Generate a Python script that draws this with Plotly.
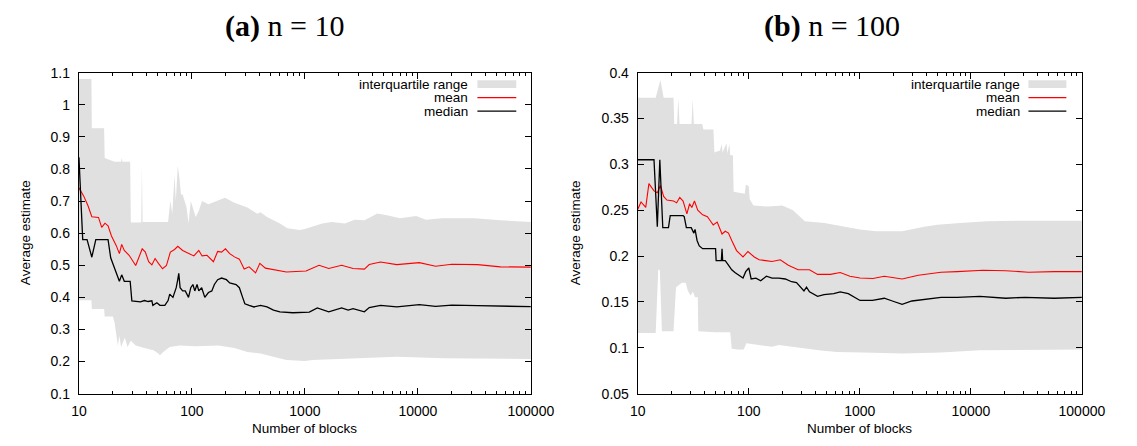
import plotly.graph_objects as go

W, H = 1137, 446

# ---------------- (a) n = 10 ----------------
a_med_x = [10, 10.8, 11.8, 13.0, 14.1, 18.1, 19.1, 21.4, 22.8, 23.9, 25.2, 28.4, 29.4, 35, 38, 41, 44.2,
           45.1, 48.9, 52.1, 57.6, 61.5, 63.6, 67.9, 72.6, 75.0, 76.5, 78.6, 82.8, 87.3, 93.3, 97.7, 102,
           106, 111, 115, 122, 130, 140, 150, 158, 169, 183, 202, 216, 246, 263, 281, 294, 321, 354, 405,
           462, 527, 601, 783, 1094, 1288, 1626, 2115, 2415, 2668, 3360, 3710, 4670, 6500, 10300, 14350,
           20000, 33800, 53800, 100000]
a_med_y = [0.836, 0.58, 0.58, 0.525, 0.58, 0.58, 0.523, 0.48, 0.45, 0.47, 0.45, 0.45, 0.389, 0.386, 0.39,
           0.387, 0.389, 0.375, 0.383, 0.375, 0.375, 0.39, 0.41, 0.40, 0.43, 0.456, 0.475, 0.43, 0.42, 0.42,
           0.40, 0.43, 0.44, 0.42, 0.44, 0.42, 0.43, 0.40, 0.415, 0.42, 0.44, 0.455, 0.46, 0.455, 0.445,
           0.44, 0.43, 0.40, 0.38, 0.375, 0.37, 0.375, 0.37, 0.36, 0.355, 0.352, 0.354, 0.367, 0.355, 0.367,
           0.360, 0.365, 0.355, 0.368, 0.375, 0.370, 0.377, 0.372, 0.376, 0.374, 0.372, 0.371]

a_mean_x = [10, 11.0, 12.0, 13.0, 14.9, 15.9, 17.0, 18.1, 19.4, 21.4, 22.8, 23.9, 25.2, 27.8, 31.8, 34.6,
            36.3, 38.7, 41.4, 44.2, 47.2, 50.5, 55.0, 59.5, 64.4, 70.2, 75.0, 82.8, 91.4, 104, 115, 123,
            136, 155, 169, 183, 198, 216, 238, 263, 290, 321, 366, 399, 447, 527, 686, 1023, 1334, 1626,
            2115, 2668, 3360, 3710, 4670, 6500, 10300, 14350, 20000, 33800, 53800, 100000]
a_mean_y = [0.741, 0.716, 0.686, 0.651, 0.649, 0.618, 0.631, 0.623, 0.591, 0.561, 0.536, 0.565, 0.546,
            0.531, 0.499, 0.531, 0.551, 0.541, 0.511, 0.501, 0.521, 0.506, 0.489, 0.499, 0.541, 0.549,
            0.559, 0.546, 0.539, 0.529, 0.546, 0.529, 0.531, 0.511, 0.543, 0.541, 0.551, 0.536, 0.526,
            0.519, 0.488, 0.495, 0.476, 0.506, 0.491, 0.486, 0.479, 0.482, 0.500, 0.490, 0.500, 0.490,
            0.488, 0.502, 0.510, 0.502, 0.508, 0.497, 0.503, 0.502, 0.495, 0.494]

a_q3_x = [10, 12.9, 13.0, 16.7, 16.9, 20.7, 23.6, 23.9, 24.3, 28.4, 28.8, 35.6, 36.1, 36.6, 61.5, 64.4,
          67, 70.2, 72, 75.0, 77.6, 80, 82.8, 89.7, 93.3, 97.7, 108, 115, 123, 140, 196, 238, 310, 379,
          405, 462, 527, 601, 700, 897, 1000, 1167, 1422, 1733, 2259, 2754, 3360, 3830, 4370, 5330, 6940,
          9660, 11780, 16400, 31700, 53800, 100000]
a_q3_y = [1.08, 1.08, 0.927, 0.927, 0.834, 0.822, 0.822, 0.834, 0.822, 0.822, 0.633, 0.633, 0.81, 0.635,
          0.635, 0.70, 0.66, 0.78, 0.70, 0.81, 0.77, 0.72, 0.72, 0.68, 0.63, 0.70, 0.65, 0.67, 0.70, 0.69,
          0.71, 0.695, 0.68, 0.66, 0.665, 0.65, 0.64, 0.63, 0.615, 0.61, 0.613, 0.62, 0.63, 0.635, 0.63,
          0.642, 0.64, 0.65, 0.661, 0.656, 0.646, 0.653, 0.642, 0.646, 0.646, 0.64, 0.635]

a_q1_x = [10, 12.9, 13.0, 16.7, 16.9, 20.0, 20.7, 22.1, 22.8, 23.6, 25.5, 26.9, 28.8, 31.8, 40.1, 45.7,
          50.5, 52.1, 55.7, 63.6, 77.6, 108, 171, 238, 310, 405, 527, 686, 1000, 1167, 2259, 6500, 17000,
          40000, 100000]
a_q1_y = [0.391, 0.391, 0.364, 0.364, 0.34, 0.34, 0.32, 0.25, 0.28, 0.245, 0.275, 0.245, 0.265, 0.25,
          0.24, 0.235, 0.225, 0.22, 0.23, 0.245, 0.25, 0.248, 0.25, 0.242, 0.23, 0.225, 0.215, 0.205,
          0.202, 0.205, 0.21, 0.215, 0.21, 0.208, 0.208]

# ---------------- (b) n = 100 ----------------
b_med_x = [10, 14.0, 15.0, 15.8, 16.8, 18.9, 19.6, 25.6, 26.2, 27.4, 30.3, 32.0, 32.8, 34.2, 35.8, 38.4,
           50.2, 50.8, 56.6, 57.4, 58.2, 61.3, 65.6, 70.2, 75.0, 88.7, 93.8, 100, 105, 116, 128, 144, 162,
           186, 213, 243, 269, 314, 331, 352, 416, 476, 582, 666, 787, 1004, 1300, 1660, 1962, 2404, 2941,
           3844, 5382, 7530, 12050, 20600, 30800, 56400, 100000]
b_med_y = [0.305, 0.305, 0.232, 0.305, 0.231, 0.231, 0.244, 0.244, 0.243, 0.231, 0.231, 0.225, 0.229,
           0.217, 0.211, 0.208, 0.208, 0.195, 0.195, 0.208, 0.195, 0.195, 0.190, 0.185, 0.182, 0.176,
           0.183, 0.187, 0.175, 0.176, 0.173, 0.178, 0.176, 0.176, 0.175, 0.172, 0.171, 0.162, 0.166,
           0.161, 0.156, 0.158, 0.159, 0.161, 0.159, 0.1516, 0.1516, 0.154, 0.151, 0.1474, 0.151, 0.1525,
           0.155, 0.155, 0.156, 0.154, 0.155, 0.154, 0.155]

b_mean_x = [10, 10.7, 11.8, 12.6, 14.0, 15.0, 16.0, 17.1, 18.3, 21.0, 22.4, 23.9, 25.6, 27.7, 29.3, 30.7,
            32.4, 34.7, 38.4, 42.4, 45.3, 47.8, 51.9, 57.4, 61.4, 65.6, 70.2, 77.6, 88.7, 98.2, 112, 124,
            142, 162, 192, 227, 278, 352, 416, 544, 666, 814, 1004, 1312, 1660, 2404, 3365, 5382, 7530,
            12900, 20600, 33000, 56400, 100000]
b_mean_y = [0.251, 0.259, 0.253, 0.279, 0.271, 0.269, 0.277, 0.265, 0.261, 0.260, 0.258, 0.264, 0.260,
            0.246, 0.257, 0.253, 0.260, 0.250, 0.245, 0.243, 0.238, 0.234, 0.237, 0.224, 0.227, 0.225,
            0.217, 0.206, 0.199, 0.205, 0.199, 0.196, 0.195, 0.194, 0.196, 0.190, 0.185, 0.185, 0.180,
            0.180, 0.182, 0.178, 0.176, 0.1755, 0.178, 0.175, 0.179, 0.1824, 0.183, 0.1845, 0.184, 0.1824,
            0.183, 0.183]

b_q3_x = [10, 14.5, 16.0, 17.1, 21.0, 21.3, 22.6, 23.2, 23.8, 30.5, 31.2, 32.0, 38.0, 39.0, 48.0, 49.0,
          55, 57, 58, 63, 64, 67, 68, 72, 73, 92, 94, 100, 102, 110, 150, 200, 250, 320, 480, 720, 1000,
          1400, 2400, 3800, 5000, 8000, 14000, 30000, 100000]
b_q3_y = [0.3726, 0.3726, 0.392, 0.3726, 0.3726, 0.344, 0.344, 0.372, 0.344, 0.344, 0.371, 0.344, 0.344,
          0.338, 0.338, 0.313, 0.315, 0.322, 0.313, 0.323, 0.312, 0.322, 0.31, 0.31, 0.27, 0.268, 0.278,
          0.276, 0.262, 0.255, 0.254, 0.255, 0.25, 0.238, 0.236, 0.232, 0.229, 0.227, 0.227, 0.232, 0.234,
          0.236, 0.238, 0.2385, 0.2385]

b_q1_x = [10, 14.5, 15.3, 15.8, 16.5, 21.0, 22.1, 25.0, 27.0, 28.3, 29.9, 31.4, 32.8, 34.7, 35.1, 50, 68,
          70.2, 80, 90, 95, 116, 162, 186, 243, 318, 445, 622, 1066, 2400, 5400, 12000, 30000, 100000]
b_q1_y = [0.116, 0.116, 0.185, 0.185, 0.118, 0.118, 0.166, 0.171, 0.171, 0.162, 0.157, 0.161, 0.155,
          0.155, 0.118, 0.117, 0.117, 0.099, 0.098, 0.098, 0.105, 0.104, 0.101, 0.103, 0.101, 0.099,
          0.097, 0.0955, 0.095, 0.0938, 0.095, 0.0973, 0.0977, 0.098]

x_major = [10, 100, 1000, 10000, 100000]
x_major_text = ["10", "100", "1000", "10000", "100000"]
x_minor = [m * d for d in [10, 100, 1000, 10000] for m in range(2, 10)]

titles = ["<b>(a)</b> n = 10", "<b>(b)</b> n = 100"]
legend_labels = ["interquartile range", "mean", "median"]
x_label = "Number of blocks"
y_label = "Average estimate"

BAND = "#e0e0e0"
RED = "#ff0000"
BLACK = "#000000"
FONT = "Liberation Sans"

fig = go.Figure()

panels = [
    (a_q3_x, a_q3_y, a_q1_x, a_q1_y, a_mean_x, a_mean_y, a_med_x, a_med_y, "x", "y"),
    (b_q3_x, b_q3_y, b_q1_x, b_q1_y, b_mean_x, b_mean_y, b_med_x, b_med_y, "x2", "y2"),
]
for q3x, q3y, q1x, q1y, mx, my, dx, dy, xa, ya in panels:
    fig.add_trace(go.Scatter(x=q3x + q1x[::-1], y=q3y + q1y[::-1], fill="toself", fillcolor=BAND,
                             line=dict(width=0, color=BAND), mode="lines", hoverinfo="skip",
                             showlegend=False, xaxis=xa, yaxis=ya))
    fig.add_trace(go.Scatter(x=mx, y=my, mode="lines", line=dict(color=RED, width=1.1),
                             showlegend=False, xaxis=xa, yaxis=ya))
    fig.add_trace(go.Scatter(x=dx, y=dy, mode="lines", line=dict(color=BLACK, width=1.3),
                             showlegend=False, xaxis=xa, yaxis=ya))

def px(v):
    return v / W

def py(v):
    return 1 - v / H

xcommon = dict(type="log", range=[1, 5], tickmode="array", tickvals=x_major, ticktext=x_major_text,
               ticks="inside", ticklen=6, tickwidth=1, tickcolor="black", mirror="allticks",
               showline=True, linecolor="black", linewidth=1.2, showgrid=False, zeroline=False,
               ticklabelstandoff=4,
               minor=dict(tickmode="array", tickvals=x_minor, ticks="inside", ticklen=3,
                          tickcolor="black", tickwidth=1, showgrid=False),
               tickfont=dict(family=FONT, size=14, color="black"))
ycommon = dict(ticks="inside", ticklen=6, tickwidth=1, tickcolor="black", mirror="allticks",
               showline=True, linecolor="black", linewidth=1.2, showgrid=False, zeroline=False,
               ticklabelstandoff=5, tickfont=dict(family=FONT, size=14, color="black"))

ydom = [py(400), py(67)]
fig.update_layout(
    autosize=True, margin=dict(l=0, r=0, t=0, b=0),
    paper_bgcolor="white", plot_bgcolor="white", showlegend=False,
    xaxis=dict(domain=[px(73), px(538)], anchor="y", **xcommon),
    yaxis=dict(domain=ydom, anchor="x", range=[0.1, 1.1], tick0=0.1, dtick=0.1, **ycommon),
    xaxis2=dict(domain=[px(648), px(1105)], anchor="y2", **xcommon),
    yaxis2=dict(domain=ydom, anchor="x2", range=[0.05, 0.4], tick0=0.05, dtick=0.05, **ycommon),
)

ann = []
shapes = []
# titles
for t, cx in zip(titles, [285, 848]):
    ann.append(dict(text=t, x=px(cx), y=py(19), xref="paper", yref="paper", xanchor="center",
                    yanchor="middle", showarrow=False,
                    font=dict(family="Liberation Serif", size=30, color="black")))
# axis titles
for cx in [305, 876]:
    ann.append(dict(text=x_label, x=px(cx), y=py(436), xref="paper", yref="paper", xanchor="center",
                    yanchor="middle", showarrow=False, font=dict(family=FONT, size=13.5, color="black")))
for cx in [18, 584]:
    ann.append(dict(text=y_label, x=px(cx), y=py(233), xref="paper", yref="paper", xanchor="center",
                    yanchor="middle", showarrow=False, textangle=-90,
                    font=dict(family=FONT, size=13.5, color="black")))
# legends
rows = [79, 93, 107]
for text_right, s0, s1 in [(474, 483, 523), (1042, 1050, 1089)]:
    for lab, r in zip(legend_labels, rows):
        ann.append(dict(text=lab, x=px(text_right), y=py(r), xref="paper", yref="paper",
                        xanchor="right", yanchor="middle", showarrow=False, borderpad=0,
                        font=dict(family=FONT, size=13.5, color="black")))
    shapes.append(dict(type="rect", xref="paper", yref="paper", x0=px(s0), x1=px(s1),
                       y0=py(rows[0] + 4), y1=py(rows[0] - 4), fillcolor=BAND, line=dict(width=0)))
    shapes.append(dict(type="line", xref="paper", yref="paper", x0=px(s0), x1=px(s1),
                       y0=py(rows[1]), y1=py(rows[1]), line=dict(color=RED, width=1.1)))
    shapes.append(dict(type="line", xref="paper", yref="paper", x0=px(s0), x1=px(s1),
                       y0=py(rows[2]), y1=py(rows[2]), line=dict(color=BLACK, width=1.3)))

fig.update_layout(annotations=ann, shapes=shapes)
fig.write_html("out.html",
               default_width="%dpx; position:fixed; left:0px; top:0px" % W,
               default_height="%dpx" % H)
